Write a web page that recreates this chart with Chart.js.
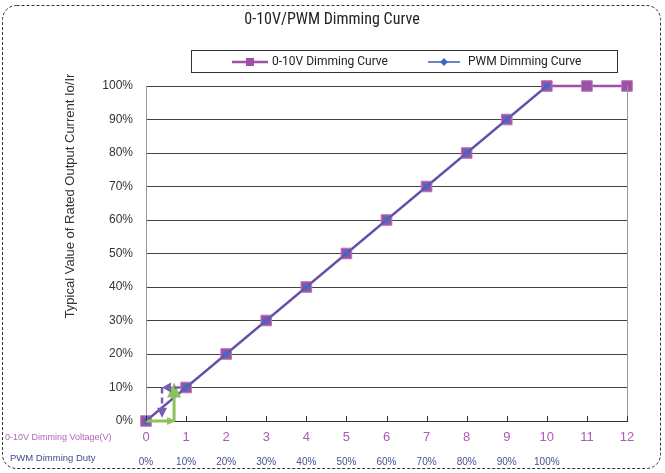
<!DOCTYPE html>
<html><head><meta charset="utf-8">
<script src="https://cdn.jsdelivr.net/npm/chart.js@4/dist/chart.umd.min.js"></script>
<style>html,body{margin:0;padding:0;background:#fff}#wrap{width:665px;height:473px;position:relative}</style>
</head><body><div id="wrap"><canvas id="c" width="665" height="473"></canvas></div>
<script>
// ---- data ----
const voltage = [0,1,2,3,4,5,6,7,8,9,10,11,12];
const curve010V = [0,10,20,30,40,50,60,70,80,90,100,100,100];
const dutyPct = [0,10,20,30,40,50,60,70,80,90,100];
const curvePWM = [0,10,20,30,40,50,60,70,80,90,100];
const dutyLabels = ['0%','10%','20%','30%','40%','50%','60%','70%','80%','90%','100%'];
const yTickValues = [0,10,20,30,40,50,60,70,80,90,100];
const seriesNames = ['0-10V Dimming Curve','PWM Dimming Curve'];
const titleText = '0-10V/PWM Dimming Curve';
const yTitleText = 'Typical Value of Rated Output Current Io/Ir';
const axisNames = ['0-10V Dimming Voltage(V)','PWM Dimming Duty'];
// guide arrows in data units (x = volts, y = %)
const greenArrow = [[0,0],[0.7,0],[0.7,11.5]];
const dashedArrow = [[1,10],[0.4,10],[0.4,1]];

const PURPLE = '#9E4FA6', BLUE = '#3D6CC4', GREEN = '#8DC15C', DASHPURPLE = '#7A5CB4';

function arrowHead(ctx, x1, y1, x2, y2, len, half, color){
  const ang = Math.atan2(y2-y1, x2-x1);
  ctx.save(); ctx.fillStyle = color; ctx.beginPath();
  ctx.moveTo(x2, y2);
  ctx.lineTo(x2 - len*Math.cos(ang) + half*Math.sin(ang), y2 - len*Math.sin(ang) - half*Math.cos(ang));
  ctx.lineTo(x2 - len*Math.cos(ang) - half*Math.sin(ang), y2 - len*Math.sin(ang) + half*Math.cos(ang));
  ctx.closePath(); ctx.fill(); ctx.restore();
}

const deco = {
  id: 'deco',
  beforeDraw(chart){
    const ctx = chart.ctx; ctx.save(); ctx.fillStyle = '#fff'; ctx.fillRect(0,0,chart.width,chart.height); ctx.restore();
  },
  afterDatasetsDraw(chart){
    const ctx = chart.ctx, xs = chart.scales.x, ys = chart.scales.y;
    // green arrow
    const g = greenArrow.map(p => [xs.getPixelForValue(p[0]), ys.getPixelForValue(p[1])]);
    ctx.save(); ctx.strokeStyle = GREEN; ctx.lineWidth = 3; ctx.setLineDash([]);
    ctx.beginPath(); ctx.moveTo(g[0][0], g[0][1]); ctx.lineTo(g[1][0]-6, g[1][1]); ctx.stroke();
    ctx.beginPath(); ctx.moveTo(g[1][0], g[1][1]); ctx.lineTo(g[2][0], g[2][1]+12); ctx.stroke();
    ctx.restore();
    arrowHead(ctx, g[0][0], g[0][1], g[1][0]+2, g[1][1], 9, 4, GREEN);
    arrowHead(ctx, g[1][0], g[1][1], g[2][0], g[2][1], 15, 7, GREEN);
    // dashed purple arrow
    const d = dashedArrow.map(p => [xs.getPixelForValue(p[0]), ys.getPixelForValue(p[1])]);
    ctx.save(); ctx.strokeStyle = DASHPURPLE; ctx.lineWidth = 2.5; ctx.setLineDash([6,4]);
    ctx.beginPath(); ctx.moveTo(d[0][0]-6, d[0][1]); ctx.lineTo(d[1][0]+6, d[1][1]); ctx.stroke();
    ctx.beginPath(); ctx.moveTo(d[1][0], d[1][1]); ctx.lineTo(d[2][0], d[2][1]-8); ctx.stroke();
    ctx.restore();
    arrowHead(ctx, d[0][0], d[0][1], d[1][0], d[1][1], 9, 5, DASHPURPLE);
    arrowHead(ctx, d[1][0], d[1][1], d[2][0], d[2][1], 10, 5, DASHPURPLE);
  },
  afterDraw(chart){
    const ctx = chart.ctx, a = chart.chartArea, xs = chart.scales.x;
    ctx.save();
    // dashed rounded frame
    ctx.strokeStyle = '#333'; ctx.lineWidth = 1; ctx.setLineDash([3,2]);
    ctx.beginPath(); ctx.roundRect(2.5, 5.5, 658, 463, 14); ctx.stroke();
    ctx.setLineDash([]);
    // title
    ctx.fillStyle = '#222'; ctx.textAlign = 'center'; ctx.textBaseline = 'middle';
    ctx.font = '16px "Liberation Sans Narrow", "Roboto Condensed", Roboto, sans-serif';
    ctx.fillText(titleText, 332, 20);
    // legend box
    ctx.strokeStyle = '#333'; ctx.lineWidth = 1;
    ctx.strokeRect(191.5, 50.5, 426, 22);
    const ly = 62;
    const ds = chart.data.datasets;
    // entry 1
    ctx.strokeStyle = ds[0].borderColor; ctx.lineWidth = 2.5;
    ctx.beginPath(); ctx.moveTo(232, ly); ctx.lineTo(268, ly); ctx.stroke();
    ctx.fillStyle = ds[0].pointBackgroundColor; ctx.fillRect(246, ly-4, 8, 8);
    ctx.fillStyle = '#222'; ctx.textAlign = 'left'; ctx.font = '12px Roboto, "Liberation Sans", sans-serif';
    ctx.fillText(ds[0].label, 272, ly);
    // entry 2
    ctx.strokeStyle = ds[1].borderColor; ctx.lineWidth = 1.5;
    ctx.beginPath(); ctx.moveTo(428, ly); ctx.lineTo(460, ly); ctx.stroke();
    ctx.fillStyle = ds[1].pointBackgroundColor;
    ctx.beginPath(); ctx.moveTo(444, ly-4); ctx.lineTo(448, ly); ctx.lineTo(444, ly+4); ctx.lineTo(440, ly); ctx.closePath(); ctx.fill();
    ctx.fillStyle = '#222'; ctx.fillText(ds[1].label, 468, ly);
    // y title
    ctx.save(); ctx.translate(70, 196); ctx.rotate(-Math.PI/2);
    ctx.textAlign = 'center'; ctx.fillStyle = '#333'; ctx.font = '13px "Liberation Sans", Arial, sans-serif';
    ctx.fillText(yTitleText, 0, 0); ctx.restore();
    // left axis names
    ctx.textAlign = 'left';
    ctx.font = '9px "Liberation Sans", Arial, sans-serif';
    ctx.fillStyle = '#B466BC'; ctx.fillText(axisNames[0], 5, 438);
    ctx.font = '9.5px "Liberation Sans", Arial, sans-serif';
    ctx.fillStyle = '#3E4C8C'; ctx.fillText(axisNames[1], 10, 458);
    // right edge of plot
    ctx.strokeStyle = '#999'; ctx.lineWidth = 1;
    ctx.beginPath(); ctx.moveTo(Math.round(a.right)+0.5, a.top); ctx.lineTo(Math.round(a.right)+0.5, a.bottom); ctx.stroke();
    // inner tick marks on x axis
    ctx.strokeStyle = '#333';
    xs.ticks.forEach(t => {
      const px = Math.round(xs.getPixelForValue(t.value)) + 0.5;
      ctx.beginPath(); ctx.moveTo(px, a.bottom); ctx.lineTo(px, a.bottom - 5); ctx.stroke();
    });
    ctx.restore();
  }
};

new Chart(document.getElementById('c'), {
  type: 'line',
  data: {
    datasets: [
      {
        label: seriesNames[0],
        data: voltage.map((v,i) => ({x: v, y: curve010V[i]})),
        borderColor: PURPLE, backgroundColor: PURPLE, borderWidth: 2.5,
        pointStyle: 'rect', pointRadius: 7.5, pointBackgroundColor: PURPLE,
        pointBorderColor: '#B27AB8', pointBorderWidth: 1, order: 1, clip: false,
        xAxisID: 'x', yAxisID: 'y'
      },
      {
        label: seriesNames[1],
        data: dutyPct.map((d,i) => ({x: d/10, y: curvePWM[i]})),
        borderColor: '#3F5BB2', backgroundColor: BLUE, borderWidth: 1.5,
        pointStyle: 'rectRot', pointRadius: 3.5, pointBackgroundColor: BLUE,
        pointBorderColor: BLUE, pointBorderWidth: 0, order: 0, clip: false,
        xAxisID: 'x', yAxisID: 'y'
      }
    ]
  },
  options: {
    responsive: false, animation: false, devicePixelRatio: 1,
    layout: { padding: { top: 86, right: 38, left: 0, bottom: 0 } },
    plugins: { legend: { display: false }, title: { display: false }, tooltip: { enabled: false } },
    scales: {
      x: {
        type: 'linear', position: 'bottom', min: 0, max: 12,
        afterBuildTicks(s){ s.ticks = voltage.map(v => ({value: v})); },
        afterFit(s){ s.height = 28; },
        grid: { display: false, drawTicks: false },
        border: { display: true, color: '#333', width: 1 },
        ticks: { color: '#A95BB3', padding: 9, maxRotation: 0, autoSkip: false,
          font: { size: 13, family: '"Liberation Sans", Arial, sans-serif' },
          callback: v => String(v) }
      },
      x2: {
        type: 'linear', position: 'bottom', min: 0, max: 12,
        afterBuildTicks(s){ s.ticks = dutyPct.map(d => ({value: d/10})); },
        afterFit(s){ s.height = 24; },
        grid: { display: false, drawTicks: false },
        border: { display: false },
        ticks: { color: '#46528E', padding: 7, maxRotation: 0, autoSkip: false,
          font: { size: 10, family: '"Liberation Sans", Arial, sans-serif' },
          callback: (v, i) => dutyLabels[i] }
      },
      y: {
        type: 'linear', min: 0, max: 100,
        afterBuildTicks(s){ s.ticks = yTickValues.map(v => ({value: v})); },
        afterFit(s){ s.width = 146; },
        grid: { color: '#444', lineWidth: 1, drawTicks: false },
        border: { display: true, color: '#999', width: 1 },
        ticks: { color: '#333', padding: 13,
          font: { size: 12, family: '"Liberation Sans", Arial, sans-serif' },
          callback: v => v + '%' }
      }
    }
  },
  plugins: [deco]
});
</script>
</body></html>
